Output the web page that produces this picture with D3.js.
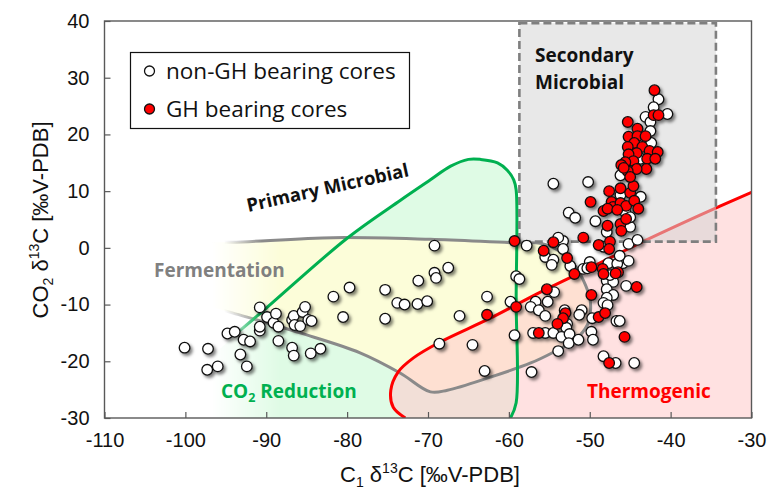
<!DOCTYPE html>
<html><head><meta charset="utf-8">
<script src="https://cdn.jsdelivr.net/npm/d3@7/dist/d3.min.js"></script>
<style>body{margin:0;background:#fff}</style>
</head><body>
<svg id="c" width="768" height="496"></svg>
<script>
// ---------- data ----------
const xTicks = [-110,-100,-90,-80,-70,-60,-50,-40,-30];
const yTicks = [-30,-20,-10,0,10,20,30,40];

const nonGH = [
 [-100.1,-17.6],[-97.2,-17.8],[-97.3,-21.5],[-96.0,-20.9],[-94.8,-15.1],[-93.9,-14.8],[-93.2,-18.8],[-92.8,-16.2],
 [-92.0,-16.5],[-92.4,-20.9],[-90.8,-10.5],[-90.8,-14.6],[-90.8,-13.9],[-89.9,-12.2],[-89.1,-13.2],[-88.8,-11.6],
 [-88.5,-13.9],[-88.5,-16.4],[-86.8,-12.7],[-86.6,-12.0],[-86.5,-13.6],[-85.8,-13.8],[-85.5,-11.3],[-85.2,-10.4],
 [-84.8,-12.7],[-84.4,-12.9],[-86.8,-17.6],[-86.6,-19.0],[-84.5,-18.6],[-83.3,-17.8],[-81.7,-8.6],[-79.7,-7.0],
 [-80.5,-12.2],[-75.3,-7.4],[-75.3,-12.5],[-73.8,-9.7],[-72.9,-10.0],[-71.3,-9.9],[-71.2,-5.8],[-70.1,-9.4],
 [-69.2,0.4],[-67.5,-3.5],[-69.2,-4.4],[-69.0,-5.3],[-66.1,-12.0],[-62.7,-8.6],[-68.6,-16.9],[-64.5,-17.1],
 [-63.0,-21.7],[-57.2,-21.9],
 [-57.8,0.4],[-55.5,-1.6],[-54.5,-2.1],[-54.7,-3.0],[-53.3,1.2],[-53.3,-0.2],[-52.4,-3.2],[-53.9,1.8],
 [-50.8,-3.7],[-50.0,-2.5],[-50.3,-3.6],[-48.3,0.2],[-47.7,-2.7],[-45.9,-2.7],[-46.6,-2.8],[-45.2,-2.3],
 [-46.3,-1.4],[-45.2,0.7],[-44.1,1.4],[-47.9,-5.8],[-47.1,-6.0],[-47.5,-4.8],[-45.5,-6.7],[-47.9,-7.3],
 [-47.1,-8.3],[-47.9,-8.8],[-48.3,-9.7],[-47.8,-10.1],[-51.0,-11.0],[-51.3,-11.8],[-53.1,-11.0],[-52.8,-13.4],
 [-52.9,-14.1],[-54.4,-7.8],[-55.2,-9.5],[-56.7,-9.5],[-57.3,-10.4],[-56.3,-11.0],[-55.5,-12.0],[-59.8,-9.5],
 [-59.1,-5.0],[-58.7,-5.5],[-59.3,-15.4],[-57.0,-15.0],[-55.5,-15.0],[-54.5,-15.0],[-53.5,-15.7],[-52.5,-15.2],
 [-52.6,-16.8],[-51.4,-16.2],[-53.9,-18.2],[-49.8,-14.8],[-49.6,-16.2],[-49.7,-12.4],[-46.7,-12.9],[-46.3,-12.9],
 [-48.3,-19.1],[-46.8,-20.3],[-44.5,-20.3],
 [-54.5,11.3],[-50.2,11.6],[-52.6,6.2],[-51.8,5.3],[-49.3,4.7],[-47.9,2.8],[-45.0,3.7],[-46.2,9.3],
 [-43.7,9.0],[-45.6,6.3],[-45.0,5.4],[-41.5,26.2],[-42.1,24.8],[-40.4,23.6],[-43.1,23.1],[-42.5,22.2],
 [-42.5,20.6],[-42.4,18.5],[-43.7,15.7],[-46.2,12.8]
];

const GH = [
 [-62.7,-11.8],[-59.3,1.2],[-55.7,-0.5],[-54.5,1.0],[-52.8,-1.8],[-51.9,-4.6],[-50.8,1.8],[-49.8,-3.4],
 [-48.9,0.5],[-48.4,-3.7],[-48.3,-4.6],[-47.5,1.1],[-47.6,-0.2],[-46.5,-4.3],[-46.8,-4.5],[-44.2,-6.9],
 [-49.8,-8.3],[-53.0,-11.5],[-53.3,-12.4],[-54.0,-13.4],[-55.3,-7.3],[-59.1,-10.4],[-56.3,-15.0],[-48.9,-12.2],
 [-48.1,-11.5],[-45.7,-15.7],[-47.6,-20.3],
 [-49.9,8.1],[-47.8,3.9],[-46.2,4.2],[-46.1,3.0],[-45.5,5.1],[-47.6,10.0],[-46.2,10.5],[-45.0,9.7],
 [-44.6,10.9],[-47.3,8.1],[-47.1,7.2],[-46.2,7.9],[-45.5,7.4],[-44.5,8.3],[-44.0,6.9],[-48.3,6.5],
 [-47.8,6.9],[-46.6,6.7],[-42.0,27.8],[-42.1,23.4],[-41.5,23.4],[-45.3,22.2],[-44.1,21.0],[-45.2,19.6],
 [-44.1,19.7],[-43.1,19.7],[-44.5,18.5],[-45.3,17.8],[-43.5,17.8],[-42.6,17.1],[-41.6,16.9],[-44.2,16.7],
 [-45.2,16.5],[-42.9,15.7],[-41.9,15.7],[-44.6,15.3],[-45.6,15.1],[-46.1,14.6],[-43.0,13.9],[-44.2,13.9],
 [-45.3,13.5],[-45.8,14.1],[-45.0,12.5]
];

// region boundaries (data units)
const thermoBoundary = [[-30,9.8],[-36.3,5.8],[-43.7,0.9],[-49.9,-3.5],[-56.1,-7.8],[-62.3,-12.4],
  [-68.5,-16.6],[-71.8,-19.4],[-73.7,-21.9],[-74.6,-25.1],[-74.3,-28.1],[-72.8,-30]];
const thermoCorner = [[-30,-30]];

const co2Boundary = [[-59.8,-30],[-59.1,-27.3],[-59.1,-9.2],[-59.1,10.2],[-59.4,12.0],[-60.2,13.7],
  [-61.4,15.0],[-63.5,15.6],[-65.0,15.6],[-67.2,14.4],[-69.7,12.0],[-73.4,8.4],[-80,1.7],[-90.3,-11.0],[-93.6,-15.0]];
const co2Corner = [[-105,-30]];

const fermBoundary = [[-97,1.0],[-94.1,1.0],[-81.7,1.8],[-69.7,1.5],[-59.4,0.9],[-56.1,0.8],[-53.6,-0.7],
  [-51.8,-3.2],[-50.8,-5.7],[-50.0,-8.8],[-49.9,-11.0],[-50.3,-13.6],[-51.8,-16.2],[-54.5,-18.4],[-57.3,-20.3],
  [-62.3,-22.8],[-67.6,-25.1],[-69.7,-25.4],[-73.4,-22.1],[-78.4,-18.5],[-85.8,-15.0],[-94.1,-11.5],[-97,-10.3]];

const secondaryX = [-58.7,-34.4];
const secondaryY = [1.1,39.6];

// ---------- drawing ----------
const svg = d3.select("#c");
const x = d3.scaleLinear().domain([-110,-30]).range([104.5,751.5]);
const y = d3.scaleLinear().domain([-30,40]).range([418,21]);
const line = d3.line().x(d=>x(d[0])).y(d=>y(d[1])).curve(d3.curveCatmullRom.alpha(0.5));

const defs = svg.append("defs");
function fadeMask(id,x1,x2){
  const g = defs.append("linearGradient").attr("id",id+"G").attr("gradientUnits","userSpaceOnUse")
    .attr("x1",x1).attr("x2",x2).attr("y1",0).attr("y2",0);
  g.append("stop").attr("offset",0).attr("stop-color","#000");
  g.append("stop").attr("offset",1).attr("stop-color","#fff");
  defs.append("mask").attr("id",id).attr("maskUnits","userSpaceOnUse")
    .attr("x",0).attr("y",0).attr("width",768).attr("height",496)
    .append("rect").attr("width",768).attr("height",496).attr("fill",`url(#${id}G)`);
}
fadeMask("fillMask",212,280);
fadeMask("lineMask",224,262);
defs.append("clipPath").attr("id","plotClip").append("rect")
  .attr("x",x(-110)).attr("y",y(40)).attr("width",x(-30)-x(-110)).attr("height",y(-30)-y(40));
const f = defs.append("filter").attr("id","shadow").attr("x","-50%").attr("y","-50%").attr("width","200%").attr("height","200%");
f.append("feDropShadow").attr("dx",2.2).attr("dy",2.4).attr("stdDeviation",1.4)
  .attr("flood-color","#000").attr("flood-opacity",0.5);

const plot = svg.append("g").attr("clip-path","url(#plotClip)");

// fills
const fills = plot.append("g").attr("mask","url(#fillMask)");
fills.append("path").attr("d", line(co2Boundary) + "L" + x(co2Corner[0][0]) + "," + y(co2Corner[0][1]) + "Z")
  .attr("fill","#dffbe5");
fills.append("path").attr("d", line(fermBoundary) + "Z").attr("fill","#fcfdd9");
plot.append("path").attr("d", line(thermoBoundary) + "L" + x(thermoCorner[0][0]) + "," + y(thermoCorner[0][1]) + "Z")
  .attr("fill","rgb(255,205,205)").attr("fill-opacity",0.6);

// boundary lines
const lines = plot.append("g").attr("mask","url(#lineMask)").attr("fill","none").attr("stroke-width",3).attr("stroke-linejoin","round");
lines.append("path").attr("d", line(fermBoundary)).attr("stroke","#8a8a8a");
lines.append("path").attr("d", line(co2Boundary)).attr("stroke","#00b050");
plot.append("path").attr("d", line(thermoBoundary)).attr("fill","none").attr("stroke","#ff0000").attr("stroke-width",3);

// secondary microbial box
plot.append("rect")
  .attr("x",x(secondaryX[0])).attr("y",y(secondaryY[1]))
  .attr("width",x(secondaryX[1])-x(secondaryX[0])).attr("height",y(secondaryY[0])-y(secondaryY[1]))
  .attr("fill","#d6d6d6").attr("fill-opacity",0.55)
  .attr("stroke","#7f7f7f").attr("stroke-width",2.6).attr("stroke-dasharray","8,4");

// region labels
const lab = svg.append("g").attr("font-family","'Open Sans', Lato, sans-serif").attr("font-weight","bold");
lab.append("text").attr("x",535).attr("y",62).attr("font-size",19).attr("fill","#111").text("Secondary");
lab.append("text").attr("x",535).attr("y",89).attr("font-size",19).attr("fill","#111").text("Microbial");
lab.append("text").attr("x",154).attr("y",277).attr("font-size",19).attr("fill","#808080").text("Fermentation");
lab.append("text").attr("x",587).attr("y",398).attr("font-size",19).attr("fill","#ff0000").text("Thermogenic");
const co2t = lab.append("text").attr("x",221).attr("y",398).attr("font-size",19).attr("fill","#00b050");
co2t.append("tspan").text("CO");
co2t.append("tspan").attr("font-size",12.5).attr("dy",4).text("2");
co2t.append("tspan").attr("dy",-4).text(" Reduction");
lab.append("text").attr("transform","translate(329,194) rotate(-12.5)").attr("text-anchor","middle")
  .attr("font-size",18.5).attr("fill","#111").text("Primary Microbial");

// points
const pts = svg.append("g").attr("filter","url(#shadow)");
pts.selectAll("circle.w").data(nonGH).join("circle").attr("class","w")
  .attr("cx",d=>x(d[0])).attr("cy",d=>y(d[1])).attr("r",5.3)
  .attr("fill","#fff").attr("stroke","#111").attr("stroke-width",1.3);
pts.selectAll("circle.r").data(GH).join("circle").attr("class","r")
  .attr("cx",d=>x(d[0])).attr("cy",d=>y(d[1])).attr("r",5.3)
  .attr("fill","#ff0000").attr("stroke","#111").attr("stroke-width",1.3);

// frame & axes
svg.append("rect").attr("x",x(-110)).attr("y",y(40)).attr("width",x(-30)-x(-110)).attr("height",y(-30)-y(40))
  .attr("fill","none").attr("stroke","#595959").attr("stroke-width",1.4);
const fmt = d => String(d);
const xAxis = d3.axisBottom(x).tickValues(xTicks).tickFormat(fmt).tickSizeInner(-6).tickSizeOuter(0).tickPadding(15);
const gx = svg.append("g").attr("transform",`translate(0,${y(-30)})`).call(xAxis);
const yAxis = d3.axisLeft(y).tickValues(yTicks).tickFormat(fmt).tickSizeInner(-6).tickSizeOuter(0).tickPadding(15);
const gy = svg.append("g").attr("transform",`translate(${x(-110)},0)`).call(yAxis);
[gx,gy].forEach(g=>{
  g.select(".domain").remove();
  g.selectAll(".tick line").attr("stroke","#595959").attr("stroke-width",1.2);
  g.selectAll(".tick text").attr("font-family","'Liberation Sans', Arial, sans-serif").attr("font-size",20).attr("fill","#111");
});
gx.selectAll(".tick text").attr("dy","0.71em");

const at = svg.append("g").attr("font-family","'Liberation Sans', Arial, sans-serif").attr("font-size",22).attr("fill","#111");
const xt = at.append("text").attr("x",430).attr("y",482).attr("text-anchor","middle");
xt.append("tspan").text("C");
xt.append("tspan").attr("font-size",14).attr("dy",5).text("1");
xt.append("tspan").attr("dy",-5).text(" δ");
xt.append("tspan").attr("font-size",14).attr("dy",-9).text("13");
xt.append("tspan").attr("dy",9).text("C [‰V-PDB]");
const yt = at.append("text").attr("transform","translate(48,220) rotate(-90)").attr("text-anchor","middle");
yt.append("tspan").text("CO");
yt.append("tspan").attr("font-size",14).attr("dy",5).text("2");
yt.append("tspan").attr("dy",-5).text(" δ");
yt.append("tspan").attr("font-size",14).attr("dy",-9).text("13");
yt.append("tspan").attr("dy",9).text("C [‰V-PDB]");

// legend
const lg = svg.append("g");
lg.append("rect").attr("x",130.5).attr("y",52.5).attr("width",279).attr("height",76)
  .attr("fill","#fff").attr("stroke","#111").attr("stroke-width",1.2);
const legendItems = [["non-GH bearing cores","#fff"],["GH bearing cores","#ff0000"]];
legendItems.forEach((it,i)=>{
  lg.append("circle").attr("cx",149.5).attr("cy",71+i*38).attr("r",5)
    .attr("fill",it[1]).attr("stroke","#111").attr("stroke-width",1.3);
  lg.append("text").attr("x",166).attr("y",79+i*38).attr("font-family","'Open Sans', Lato, sans-serif")
    .attr("font-size",22.5).attr("fill","#111").text(it[0]);
});
</script>
</body></html>
